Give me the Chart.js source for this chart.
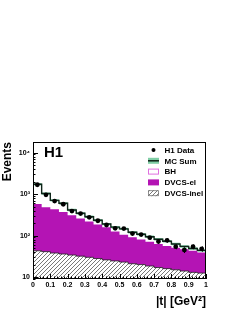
<!DOCTYPE html>
<html lang="en">
<head>
<meta charset="UTF-8">
<title>H1 |t| distribution</title>
<script src="https://cdn.jsdelivr.net/npm/chart.js"></script>
<style>
  body { margin: 0; background: #fff; }
  #wrap { width: 240px; height: 311px; }
</style>
</head>
<body>
<div id="wrap"><canvas id="tChart" width="240" height="311"></canvas></div>
<script>
// |t| bin edges in GeV^2
const tEdges = [0, 0.05, 0.1, 0.15, 0.2, 0.25, 0.3, 0.35, 0.4, 0.45, 0.5,
                0.55, 0.6, 0.65, 0.7, 0.75, 0.8, 0.85, 0.9, 0.95, 1];
const tCenters = [0.025, 0.075, 0.125, 0.175, 0.225, 0.275, 0.325, 0.375, 0.425, 0.475,
                  0.525, 0.575, 0.625, 0.675, 0.725, 0.775, 0.825, 0.875, 0.925, 0.975];

// H1 data and stat errors
const h1Data = [1680, 960, 680, 570, 390, 340, 275, 228, 180, 150,
                148, 112, 106, 89, 72, 77, 54, 45, 54, 48];
const h1Err = [41, 31, 26, 24, 20, 18, 17, 15, 13, 12,
               12, 11, 10, 9, 8.5, 9, 7, 7, 7, 7];

// MC sum (BH + DVCS-el + DVCS-inel) and its band
const mcSum = [1730, 1030, 705, 600, 415, 345, 285, 235, 190, 160,
               145, 120, 108, 94, 82, 73, 63, 55, 49, 44];
const mcErr = [110, 65, 45, 38, 27, 22, 18, 15, 12, 10,
               9.5, 8, 7, 6, 5.5, 5, 4.2, 3.7, 3.3, 3];

// cumulative DVCS-el + DVCS-inel (top of magenta)
const dvcsEl = [575, 480, 430, 372, 309, 257, 219, 186, 158, 126,
                105, 91, 81, 71, 63, 56, 51, 47, 43, 39];
// DVCS-inel
const dvcsInel = [43, 41, 38, 36, 34, 32, 30, 28, 26, 24.5,
                  23, 21, 20, 18.5, 17, 16, 15, 14, 13, 12.5];

const yTicks = [10, 100, 1000, 10000];
const yTickText = ['10', '10²', '10³', '10⁴'];
const xTicks = [0, 0.1, 0.2, 0.3, 0.4, 0.5, 0.6, 0.7, 0.8, 0.9, 1];

const FONT = 'Liberation Sans, Arial, Helvetica, sans-serif';
const MAGENTA = '#b414b4';
const GREEN = 'rgb(128,206,166)';

// histogram points: value of bin i starts at edge i, last edge closes the bin
function hist(vals) {
    return tEdges.map((e, i) => ({ x: e, y: vals[Math.min(i, vals.length - 1)] }));
}

// hatch pattern for DVCS-inel
function makeHatch() {
    const c = document.createElement('canvas');
    c.width = 4; c.height = 4;
    const g = c.getContext('2d');
    g.fillStyle = '#fff';
    g.fillRect(0, 0, 4, 4);
    g.strokeStyle = '#555';
    g.lineWidth = 0.8;
    g.beginPath();
    g.moveTo(0, 4); g.lineTo(4, 0);
    g.moveTo(-1, 1); g.lineTo(1, -1);
    g.moveTo(3, 5); g.lineTo(5, 3);
    g.stroke();
    return g.createPattern(c, 'repeat');
}
const hatch = makeHatch();

const bandHi = mcSum.map((v, i) => v + mcErr[i]);
const bandLo = mcSum.map((v, i) => v - mcErr[i]);

// frame, inward ticks and error bars
const framePlugin = {
    id: 'frame',
    afterDatasetsDraw(chart) {
        const ctx = chart.ctx, a = chart.chartArea;
        const xs = chart.scales.x, ys = chart.scales.y;
        ctx.save();
        // error bars
        ctx.strokeStyle = '#000';
        ctx.lineWidth = 1;
        ctx.beginPath();
        h1Data.forEach((v, i) => {
            const px = Math.round(xs.getPixelForValue(tCenters[i])) + 0.5;
            ctx.moveTo(px, ys.getPixelForValue(v + h1Err[i]));
            ctx.lineTo(px, ys.getPixelForValue(v - h1Err[i]));
        });
        ctx.stroke();
        // frame
        ctx.strokeRect(a.left + 0.5, a.top + 0.5, a.right - a.left - 1, a.bottom - a.top - 1);
        ctx.beginPath();
        // y ticks
        for (let d = 1; d <= 10000; d *= 10) {
            for (let m = 1; m <= 9; m++) {
                const v = d * m;
                if (v < ys.min || v > ys.max) continue;
                const py = Math.round(ys.getPixelForValue(v)) + 0.5;
                const len = m === 1 ? 5 : 2.5;
                ctx.moveTo(a.left, py); ctx.lineTo(a.left + len, py);
            }
        }
        // x ticks
        for (let k = 0; k <= 50; k++) {
            const px = Math.round(xs.getPixelForValue(k * 0.02)) + 0.5;
            const len = k % 5 === 0 ? 5 : 2.5;
            ctx.moveTo(px, a.bottom); ctx.lineTo(px, a.bottom - len);
        }
        ctx.stroke();
        ctx.restore();
    },
    afterDraw(chart) {
        const ctx = chart.ctx;
        ctx.save();
        ctx.fillStyle = '#000';
        ctx.font = 'bold 15px ' + FONT;
        ctx.textBaseline = 'middle';
        ctx.fillText('H1', 44, 153);

        // legend
        const bx = 148, bw = 11, bh = 6, tx = 164.5;
        const rows = [150, 160.8, 171.6, 182.4, 193.2];
        const names = ['H1 Data', 'MC Sum', 'BH', 'DVCS-el', 'DVCS-inel'];
        ctx.font = 'bold 8px ' + FONT;
        names.forEach((n, i) => {
            const y = rows[i];
            if (i === 0) {
                ctx.beginPath();
                ctx.arc(bx + bw / 2, y, 2, 0, Math.PI * 2);
                ctx.fill();
            } else if (i === 1) {
                ctx.fillStyle = GREEN;
                ctx.fillRect(bx, y - bh / 2, bw, bh);
                ctx.fillStyle = '#0e2418';
                ctx.fillRect(bx, y - 0.75, bw, 1.5);
            } else if (i === 2) {
                ctx.strokeStyle = '#e070e0';
                ctx.lineWidth = 1;
                ctx.strokeRect(bx + 0.5, y - bh / 2 + 0.5, bw - 1, bh - 1);
            } else if (i === 3) {
                ctx.fillStyle = MAGENTA;
                ctx.fillRect(bx, y - bh / 2, bw, bh);
            } else {
                ctx.fillStyle = hatch;
                ctx.fillRect(bx, y - bh / 2, bw, bh);
                ctx.strokeStyle = '#777';
                ctx.lineWidth = 0.8;
                ctx.strokeRect(bx + 0.5, y - bh / 2 + 0.5, bw - 1, bh - 1);
            }
            ctx.fillStyle = '#000';
            ctx.fillText(n, tx, y + 0.5);
        });
        ctx.restore();
    }
};

const STEP = 'before';   // horizontal at the previous point's value, then vertical

const ctx = document.getElementById('tChart').getContext('2d');
new Chart(ctx, {
    type: 'line',
    data: {
        datasets: [
            {   // data points
                label: 'H1 Data', type: 'scatter', order: 0,
                data: h1Data.map((v, i) => ({ x: tCenters[i], y: v })),
                pointRadius: 2.4, pointBackgroundColor: '#000', pointBorderWidth: 0,
                showLine: false
            },
            {   // MC sum line
                label: 'MC Sum', order: 1, data: hist(mcSum), stepped: STEP,
                borderColor: '#0e2418', borderWidth: 1.4, pointRadius: 0, fill: false
            },
            {   // DVCS-inel hatched
                label: 'DVCS-inel', order: 2, data: hist(dvcsInel), stepped: STEP,
                borderColor: '#222', borderWidth: 0.8, pointRadius: 0,
                fill: 'start', backgroundColor: hatch
            },
            {   // DVCS-el magenta
                label: 'DVCS-el', order: 3, data: hist(dvcsEl), stepped: STEP,
                borderWidth: 0, pointRadius: 0, fill: 'start', backgroundColor: MAGENTA
            },
            {   // MC band upper edge, filled down to the lower edge
                label: 'bandHi', order: 4, data: hist(bandHi), stepped: STEP,
                borderWidth: 0, pointRadius: 0, fill: '+1', backgroundColor: GREEN
            },
            {
                label: 'bandLo', order: 5, data: hist(bandLo), stepped: STEP,
                borderWidth: 0, pointRadius: 0, fill: false
            }
        ]
    },
    options: {
        responsive: false,
        animation: false,
        events: [],
        layout: { padding: { left: 0, right: 34, top: 142, bottom: 0 } },
        plugins: { legend: { display: false }, tooltip: { enabled: false } },
        scales: {
            x: {
                type: 'linear', min: 0, max: 1,
                grid: { display: false, drawTicks: false },
                border: { display: false },
                afterBuildTicks: s => { s.ticks = xTicks.map(v => ({ value: v })); },
                afterFit: s => { s.height = 32; },
                ticks: {
                    autoSkip: false, maxRotation: 0, padding: 2, color: '#000',
                    font: { family: FONT, size: 7, weight: 'bold' },
                    callback: v => String(Math.round(v * 10) / 10)
                },
                title: {
                    display: true, text: '|t| [GeV²]', align: 'end', color: '#000',
                    font: { family: FONT, size: 12, weight: 'bold' },
                    padding: { top: 0, bottom: 2 }
                }
            },
            y: {
                type: 'logarithmic', min: 9, max: 18000,
                grid: { display: false, drawTicks: false },
                border: { display: false },
                afterBuildTicks: s => { s.ticks = yTicks.map(v => ({ value: v })); },
                afterFit: s => { s.width = 33; },
                ticks: {
                    autoSkip: false, padding: 3, color: '#000',
                    font: { family: FONT, size: 7, weight: 'bold' },
                    callback: v => yTickText[yTicks.indexOf(v)]
                },
                title: {
                    display: true, text: 'Events', align: 'end', color: '#000',
                    font: { family: FONT, size: 12, weight: 'bold' },
                    padding: 0
                }
            }
        }
    },
    plugins: [framePlugin]
});
</script>
</body>
</html>
